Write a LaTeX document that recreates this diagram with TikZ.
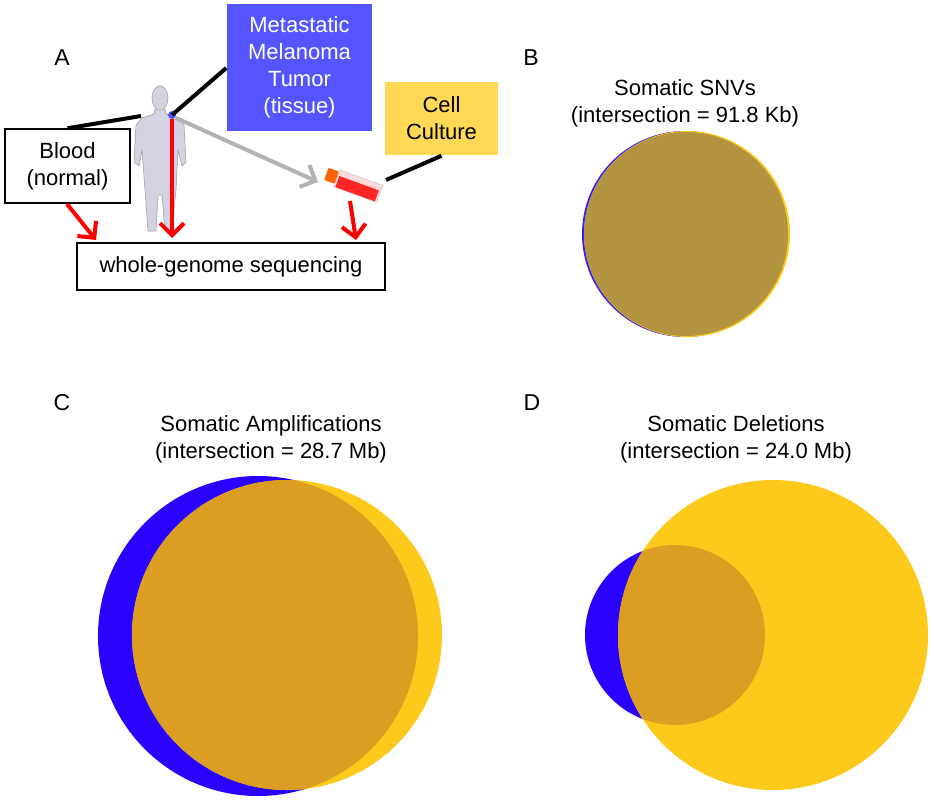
\documentclass[tikz,border=0pt]{standalone}
\usepackage{fontspec}
\setmainfont{Liberation Sans}
\usetikzlibrary{arrows.meta}
\definecolor{tumor}{HTML}{5555FF}
\definecolor{cult}{HTML}{FFD955}
\definecolor{vblue}{HTML}{2A00FF}
\definecolor{vyel}{HTML}{FDC91A}
\definecolor{vov}{HTML}{DB9D22}
\definecolor{bov}{HTML}{B39440}
\definecolor{skin}{HTML}{D2D2E0}
\begin{document}
\begin{tikzpicture}[x=1pt,y=-1pt,
  lab/.style={font=\fontsize{23}{24}\selectfont},
  ttl/.style={font=\fontsize{22}{27}\selectfont,align=center},
  box/.style={draw,line width=1.5pt,align=center,font=\fontsize{22}{27}\selectfont,inner sep=0},
  blk/.style={line width=4pt,black},
  redarr/.style={line width=4pt,red,-{Straight Barb[length=12pt,width=24pt,line width=4pt]}},
  gryarr/.style={line width=4pt,gray!60,-{Straight Barb[length=12pt,width=24pt,line width=4pt]}}]
\useasboundingbox (0,0) rectangle (934,800);
% panel A
\node[lab] (A) at (62,58) {A};
\node[box,draw=none,fill=tumor,text=white,minimum width=145pt,minimum height=127pt] (tum) at (299.5,67.5) {Metastatic\\Melanoma\\Tumor\\(tissue)};
\node[box,draw=none,fill=cult,minimum width=113pt,minimum height=73pt] (cc) at (441.5,118.5) {Cell\\Culture};
\node[box,minimum width=125pt,minimum height=74pt] (bl) at (67.5,166) {Blood\\(normal)};
\node[box,minimum width=308pt,minimum height=47pt] (wgs) at (231,266.5) {whole-genome sequencing};
% person
\begin{scope}[fill=skin,draw=black!40,line width=0.5pt]
\filldraw (160,98) ellipse (8pt and 12pt);
\filldraw (155,109) -- (165,109) -- (166,114) -- (178,118) -- (184,125) -- (186,162) -- (182,166) -- (178,150) -- (176,190) -- (172,230) -- (165,231) -- (162,195) -- (158,195) -- (156,231) -- (148,231) -- (145,190) -- (142,150) -- (139,166) -- (134,162) -- (136,125) -- (142,118) -- (154,114) -- cycle;
\end{scope}
\coordinate (t) at (172,115);
\fill[tumor] (t) circle (4pt);
\coordinate (bb) at (141,116);
\draw[blk] (t) -- (tum.west|-0,68);
\draw[blk] (bl.north) -- (bb);
\draw[redarr] (172,119) -- (172,238);
% flask
\begin{scope}[rotate around={-20:(350,182)}]
\fill[red!15] (336,174) rectangle (382,192);
\fill[red!85!white] (338,180) rectangle (380,192);
\draw[gray!50,line width=0.4pt] (336,174) rectangle (382,192);
\fill[orange!80!red,rounded corners=1pt] (325,176) rectangle (336,189);
\end{scope}
\draw[gryarr] (176,118) -- (318,182);
\coordinate (ce) at (386,180);
\draw[blk] (cc.south) -- (ce);
\draw[redarr] (67,204) -- (96,240);
\draw[redarr] (350,201) -- (356,240);
% panel B
\node[lab] (B) at (531,58) {B};
\node[ttl] (bt) at (685,103) {Somatic SNVs\\(intersection = 91.8 Kb)};
\fill[vblue!70!tumor] (685,234) circle (103);
\fill[vyel] (687,234) circle (103);
\fill[bov] (686,234) circle (102);
% panel C
\node[lab] (C) at (62,403) {C};
\node[ttl] (ct) at (271,439) {Somatic Amplifications\\(intersection = 28.7 Mb)};
\fill[vblue] (258,636) circle (160);
\fill[vyel] (287,635) circle (155);
\begin{scope}\clip (258,636) circle (160); \fill[vov] (287,635) circle (155);\end{scope}
% panel D
\node[lab] (D) at (532,403) {D};
\node[ttl] (dt) at (736,439) {Somatic Deletions\\(intersection = 24.0 Mb)};
\fill[vblue] (675,635) circle (90);
\fill[vyel] (773,635) circle (155);
\begin{scope}\clip (675,635) circle (90); \fill[vov] (773,635) circle (155);\end{scope}
\end{tikzpicture}
\end{document}
